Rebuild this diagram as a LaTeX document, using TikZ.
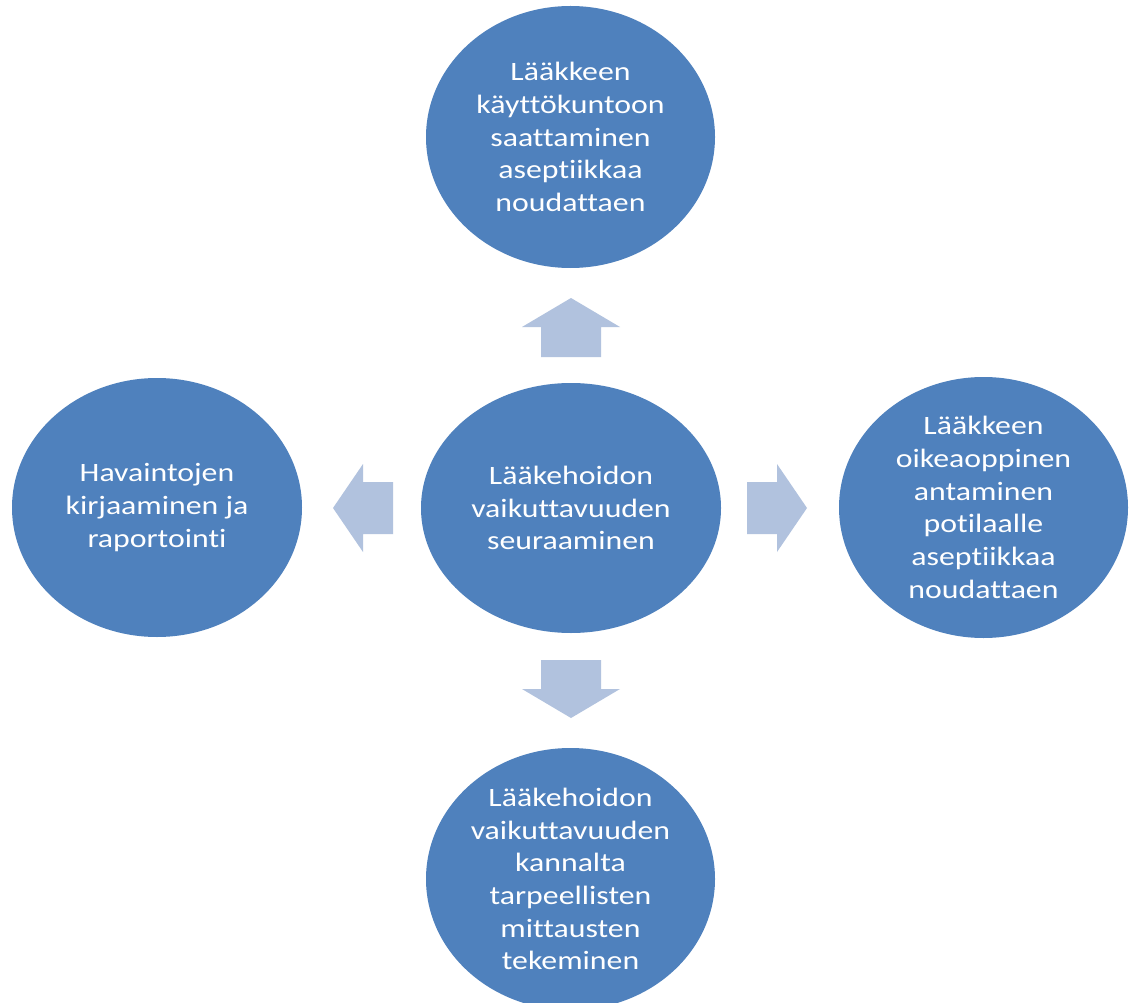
\documentclass[tikz,border=0pt]{standalone}
\usepackage{fontspec}
\setmainfont{Carlito}
\newfontfamily\lblfont[FakeStretch=1.2,Ligatures=NoCommon]{Carlito}
\usetikzlibrary{shapes.geometric}
\definecolor{blobblue}{HTML}{4F81BD}
\definecolor{arrowblue}{HTML}{B1C2DE}
\begin{document}
\begin{tikzpicture}[x=1pt,y=-1pt,
  blob/.style={ellipse, fill=blobblue, draw=none, inner sep=0pt},
  lbl/.style={text=white, align=center, inner sep=0pt, font=\lblfont\fontsize{26.5}{32.7}\selectfont},
  blockarrow/.style={fill=arrowblue, draw=none}]
\useasboundingbox (0,0) rectangle (1130,1003);
\clip (0,0) rectangle (1130,1003);
\fill[white] (0,0) rectangle (1130,1003);
% ellipses
\node[blob, minimum width=289pt, minimum height=262pt] (top) at (570.5,137) {};
\node[blob, minimum width=300pt, minimum height=250pt] (mid) at (571,508) {};
\node[blob, minimum width=290pt, minimum height=259pt] (left) at (157,507.5) {};
\node[blob, minimum width=289pt, minimum height=261pt] (right) at (983.5,507.5) {};
\node[blob, minimum width=289pt, minimum height=262pt] (bot) at (570.5,879) {};
% labels
\node[lbl] (toptxt) at (top.center) {Lääkkeen\\käyttökuntoon\\saattaminen\\aseptiikkaa\\noudattaen};
\node[lbl] (midtxt) at (mid.center) {Lääkehoidon\\vaikuttavuuden\\seuraaminen};
\node[lbl] (lefttxt) at (left.center) {Havaintojen\\kirjaaminen ja\\raportointi};
\node[lbl] (righttxt) at (right.center) {Lääkkeen\\oikeaoppinen\\antaminen\\potilaalle\\aseptiikkaa\\noudattaen};
\node[lbl] (bottxt) at (bot.center) {Lääkehoidon\\vaikuttavuuden\\kannalta\\tarpeellisten\\mittausten\\tekeminen};
% block arrows
\fill[blockarrow] (541,357) -- (541,327) -- (522,327) -- (571,298) -- (620,327) -- (601,327) -- (601,357) -- cycle;
\fill[blockarrow] (541,660) -- (601,660) -- (601,689) -- (620,689) -- (571,718) -- (522,689) -- (541,689) -- cycle;
\fill[blockarrow] (393,482) -- (363,482) -- (363,464) -- (333,508) -- (363,552) -- (363,534) -- (393,534) -- cycle;
\fill[blockarrow] (747,482) -- (777,482) -- (777,464) -- (807,508) -- (777,552) -- (777,534) -- (747,534) -- cycle;
\end{tikzpicture}
\end{document}
